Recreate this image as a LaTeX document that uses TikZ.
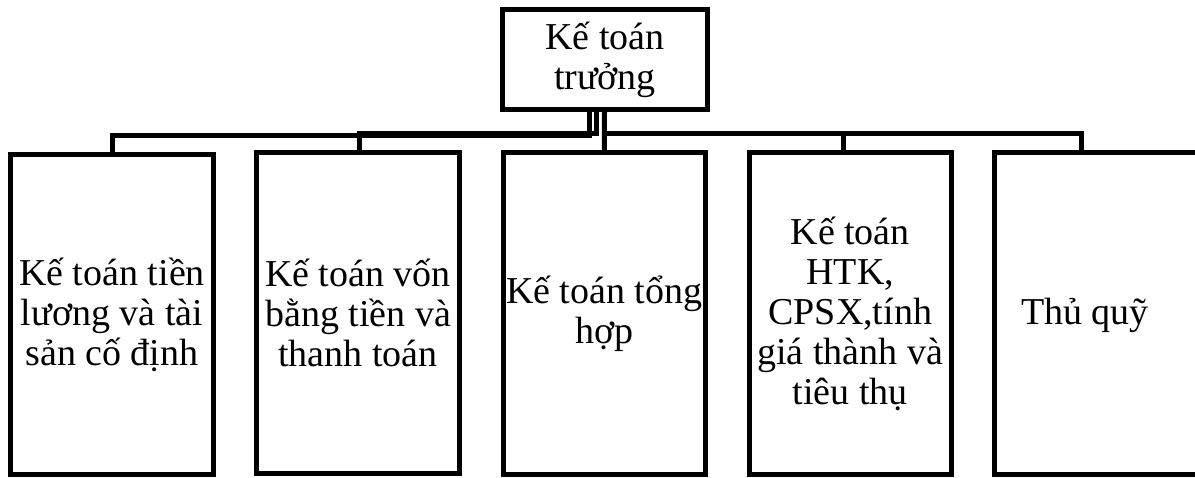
\documentclass[tikz,border=0pt]{standalone}
\usepackage{fontspec}
\setmainfont{Liberation Serif}
\begin{document}
\begin{tikzpicture}[x=1pt,y=-1pt,
  txt/.style={font=\fontsize{38}{40}\selectfont,align=center},
  box/.style={draw=black,line width=5pt,inner sep=0pt,txt},
  lbl/.style={inner sep=0pt,txt},
  conn/.style={draw=black,line width=5pt}]
\useasboundingbox (0,0) rectangle (1195,477);
\clip (0,0) rectangle (1195,477);

% head of the department
\node[box,minimum width=205,minimum height=100] (top) at (605,59.5) {Kế toán\\trưởng};

% the five sections
\node[box,minimum width=203,minimum height=320] (b1) at (112,314.5)
  {Kế toán tiền\\lương và tài\\sản cố định};
\node[box,minimum width=203,minimum height=321] (b2) at (358,313)
  {Kế toán vốn\\bằng tiền và\\thanh toán};
\node[box,minimum width=202.5,minimum height=322] (b3) at (604.25,313.5)
  {Kế toán tổng\\hợp};
\node[box,minimum width=202.5,minimum height=322] (b4) at (850.25,313.5)
  {Kế toán\\HTK,\\CPSX,tính\\giá thành và\\tiêu thụ};
\node[box,minimum width=208,minimum height=322] (b5) at (1098.5,313.5) {};
\node[lbl] (t5) at (1085,315) {Thủ quỹ};

% reporting lines
\draw[conn] ([xshift=-15.5pt]top.south) -- ++(0,23) -| (b1.north);
\draw[conn] ([xshift=-9pt]top.south) -- ++(0,21) -| ([xshift=1pt]b2.north);
\draw[conn] ([xshift=-0.5pt]top.south) -- (b3.north);
\draw[conn] ([xshift=-0.5pt,yshift=-21pt]top.south) -| ([xshift=-6.75pt]b4.north);
\draw[conn] ([xshift=-0.5pt,yshift=-21pt]top.south) -| ([xshift=-17pt]b5.north);
\end{tikzpicture}
\end{document}
